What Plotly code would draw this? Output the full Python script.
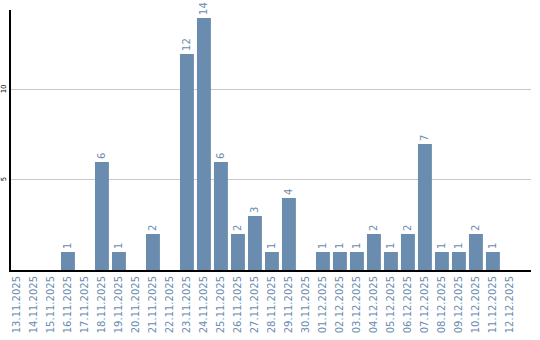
import plotly.graph_objects as go

dates = ["13.11.2025","14.11.2025","15.11.2025","16.11.2025","17.11.2025","18.11.2025",
         "19.11.2025","20.11.2025","21.11.2025","22.11.2025","23.11.2025","24.11.2025",
         "25.11.2025","26.11.2025","27.11.2025","28.11.2025","29.11.2025","30.11.2025",
         "01.12.2025","02.12.2025","03.12.2025","04.12.2025","05.12.2025","06.12.2025",
         "07.12.2025","08.12.2025","09.12.2025","10.12.2025","11.12.2025","12.12.2025"]
counts = [0,0,0,1,0,6,1,0,2,0,12,14,6,2,3,1,4,0,1,1,1,2,1,2,7,1,1,2,1,0]

color = "#6a8caf"
labels = [str(v) if v else "" for v in counts]

fig = go.Figure(go.Bar(
    x=list(range(len(dates))), y=counts, marker_color=color, marker_line_width=0,
    text=labels, textposition="outside", textangle=-90,
    textfont=dict(color=color, size=10, family="DejaVu Sans"),
    cliponaxis=False,
))
fig.update_layout(
    width=540, height=340, margin=dict(l=11, r=9, t=10, b=70),
    plot_bgcolor="white", paper_bgcolor="white", bargap=0.18, showlegend=False,
)
fig.update_xaxes(
    tickmode="array", tickvals=list(range(len(dates))), ticktext=dates,
    range=[-0.35, 30.24], tickangle=-90, ticks="", automargin=False,
    tickfont=dict(color=color, size=10, family="DejaVu Sans"),
    showline=True, linecolor="black", linewidth=2, showgrid=False, zeroline=False,
)
fig.update_yaxes(
    range=[0, 14.44], tickvals=[5, 10], tickangle=-90, ticks="", automargin=False,
    tickfont=dict(color="black", size=7, family="DejaVu Sans"),
    showline=True, linecolor="black", linewidth=2,
    showgrid=True, gridcolor="#c8c8c8", gridwidth=1, zeroline=False,
)
fig.write_html("out.html")
